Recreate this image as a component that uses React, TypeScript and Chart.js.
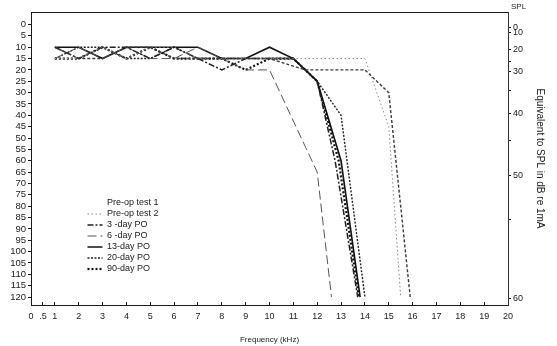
import { useEffect, useRef } from 'react';
import { Chart, registerables } from 'chart.js';

Chart.register(...registerables);

const FONT = '"Liberation Sans", Arial, Helvetica, sans-serif';
const INK = '#1a1a1a';

// Frequency axis (kHz) tick values
const xTickValues = [0, 0.5, 1, 2, 3, 4, 5, 6, 7, 8, 9, 10, 11, 12, 13, 14, 15, 16, 17, 18, 19, 20];
// Hearing level (dB) tick values
const yTickValues = [0, 5, 10, 15, 20, 25, 30, 35, 40, 45, 50, 55, 60, 65, 70, 75, 80, 85, 90, 95, 100, 105, 110, 115, 120];
// Right-hand SPL scale: labels and the hearing-level value each one lines up with
const splTickLabels = ['0', '10', '20', '', '30', '', '40', '', '50', '', '60'];
const splTickLevels = [1.5, 3.7, 10.8, 16.5, 20.5, 28.9, 39, 50.9, 66.7, 86, 120.5];

const seriesNames = ['Pre-op test 1', 'Pre-op test 2', '3 -day PO', '6 -day PO', '13-day PO', '20-day PO', '90-day PO'];

const preOp1Freq = [1, 2, 3, 4, 5, 6, 7, 8, 9, 10, 11.5, 14, 15, 15.9];
const preOp1Level = [10, 15, 15, 10, 10, 15, 15, 15, 15, 15, 20, 20, 30, 120];

const preOp2Freq = [1, 2, 3, 4, 5, 6, 7, 8, 9, 10, 11, 12, 13, 14, 15, 15.5];
const preOp2Level = [15, 15, 10, 15, 10, 10, 15, 15, 15, 15, 15, 15, 15, 15, 45, 120];

const day3Freq = [1, 2, 3, 4, 5, 6, 7, 8, 9, 10, 11, 12, 12.75, 13.7];
const day3Level = [10, 15, 10, 10, 15, 10, 15, 20, 15, 15, 15, 25, 60, 120];

const day6Freq = [1, 2, 3, 4, 5, 6, 7, 8, 9, 10, 12, 12.6];
const day6Level = [15, 10, 15, 10, 15, 15, 10, 15, 20, 20, 65, 120];

const day13Freq = [1, 2, 3, 4, 5, 6, 7, 8, 9, 10, 11, 12, 13, 13.8];
const day13Level = [10, 10, 15, 10, 10, 10, 10, 15, 15, 10, 15, 25, 60, 120];

const day20Freq = [1, 2, 3, 4, 5, 6, 7, 8, 9, 10, 11, 12, 13, 14];
const day20Level = [15, 10, 10, 15, 15, 10, 15, 15, 15, 15, 15, 25, 40, 120];

const day90Freq = [1, 2, 3, 4, 5, 6, 7, 8, 9, 10, 11, 12, 12.9, 13.75];
const day90Level = [15, 15, 10, 15, 10, 15, 15, 15, 20, 15, 15, 25, 60, 120];

const seriesFreqs = [preOp1Freq, preOp2Freq, day3Freq, day6Freq, day13Freq, day20Freq, day90Freq];
const seriesLevels = [preOp1Level, preOp2Level, day3Level, day6Level, day13Level, day20Level, day90Level];

// Line styling per series
const seriesStyles = [
  { color: '#3a3a3a', width: 1.4, dash: [3, 2] },
  { color: '#8a8a8a', width: 1, dash: [1.5, 2.5] },
  { color: '#202020', width: 1.5, dash: [6, 2, 2, 2] },
  { color: '#555555', width: 1, dash: [9, 4] },
  { color: '#111111', width: 1.6, dash: [] as number[] },
  { color: '#222222', width: 1.4, dash: [2, 1.5] },
  { color: '#111111', width: 2.2, dash: [2, 2] },
];
// Pre-op test 1 is listed without a line swatch
const swatchHidden = [true, false, false, false, false, false, false];

const figurePlugin = {
  id: 'figureExtras',
  afterLayout(chart: any) {
    const lg = chart.legend;
    const area = chart.chartArea;
    if (lg && area) {
      const w = lg.width;
      const h = lg.height;
      lg.left = area.left + 54.5;
      lg.top = area.top + 184.5;
      lg.right = lg.left + w;
      lg.bottom = lg.top + h;
    }
  },
  afterDraw(chart: any) {
    const s = chart.scales.y2;
    const ctx = chart.ctx;
    ctx.save();
    ctx.font = `8px ${FONT}`;
    ctx.fillStyle = INK;
    ctx.textBaseline = 'middle';
    ctx.textAlign = 'left';
    ctx.fillText('SPL', s.left + 3, chart.chartArea.top - 5);
    ctx.restore();
  },
};

export default function App() {
  const canvasRef = useRef<HTMLCanvasElement | null>(null);

  useEffect(() => {
    if (!canvasRef.current) return;
    const datasets = seriesNames.map((name, i) => ({
      label: name,
      data: seriesFreqs[i].map((f, j) => ({ x: f, y: seriesLevels[i][j] })),
      borderColor: seriesStyles[i].color,
      backgroundColor: seriesStyles[i].color,
      borderWidth: seriesStyles[i].width,
      borderDash: seriesStyles[i].dash,
      pointRadius: 0,
      pointStyle: 'line',
      tension: 0,
      fill: false,
      xAxisID: 'x',
      yAxisID: 'y',
    }));

    const chart = new Chart(canvasRef.current, {
      type: 'line',
      data: { datasets },
      plugins: [figurePlugin],
      options: {
        responsive: false,
        animation: false,
        layout: { padding: 0 },
        plugins: {
          tooltip: { enabled: false },
          legend: {
            position: 'chartArea',
            align: 'start',
            labels: {
              usePointStyle: true,
              pointStyle: 'line',
              pointStyleWidth: 15,
              boxWidth: 15,
              padding: 2,
              color: INK,
              font: { family: FONT, size: 9 },
              generateLabels(c: any) {
                const items = Chart.defaults.plugins.legend.labels.generateLabels(c);
                return items.map((it: any, i: number) => ({
                  ...it,
                  strokeStyle: swatchHidden[i] ? 'rgba(0,0,0,0)' : seriesStyles[i].color,
                  lineWidth: seriesStyles[i].width,
                  lineDash: seriesStyles[i].dash,
                  lineCap: 'butt',
                }));
              },
            },
          },
        },
        scales: {
          x: {
            type: 'linear',
            position: 'bottom',
            min: 0,
            max: 20,
            afterBuildTicks(axis: any) {
              axis.ticks = xTickValues.map((v) => ({ value: v }));
            },
            afterFit(axis: any) {
              axis.height = 41;
            },
            ticks: {
              autoSkip: false,
              maxRotation: 0,
              padding: 9,
              color: INK,
              font: { family: FONT, size: 9 },
              callback: (v: any) => (v === 0.5 ? '.5' : String(v)),
            },
            // negative length turns the tick marks inward, above the axis line
            grid: { drawOnChartArea: false, tickLength: -3, color: INK },
            border: { display: true, color: INK, width: 1 },
            title: {
              display: true,
              text: 'Frequency (kHz)',
              color: INK,
              font: { family: FONT, size: 8 },
              padding: { top: 0, bottom: 1 },
            },
          },
          x2: {
            type: 'linear',
            position: 'top',
            min: 0,
            max: 20,
            afterFit(axis: any) {
              axis.height = 12;
            },
            ticks: { display: false },
            grid: { display: false, drawTicks: false },
            border: { display: true, color: INK, width: 1 },
          },
          y: {
            type: 'linear',
            position: 'left',
            min: -5.5,
            max: 123.5,
            reverse: true,
            afterBuildTicks(axis: any) {
              axis.ticks = yTickValues.map((v) => ({ value: v }));
            },
            afterFit(axis: any) {
              axis.width = 31;
            },
            ticks: {
              autoSkip: false,
              padding: 2,
              color: INK,
              font: { family: FONT, size: 9.5 },
              callback: (v: any) => String(v),
            },
            grid: { drawOnChartArea: false, tickLength: 3, color: INK },
            border: { display: true, color: INK, width: 1 },
          },
          y2: {
            type: 'linear',
            position: 'right',
            min: -5.5,
            max: 123.5,
            reverse: true,
            afterBuildTicks(axis: any) {
              axis.ticks = splTickLevels.map((v) => ({ value: v }));
            },
            afterFit(axis: any) {
              axis.width = 49;
            },
            ticks: {
              autoSkip: false,
              padding: 2,
              color: INK,
              font: { family: FONT, size: 9 },
              callback: (_v: any, i: number) => splTickLabels[i],
            },
            grid: { drawOnChartArea: false, tickLength: 3, color: INK },
            border: { display: true, color: '#333', width: 1 },
            title: {
              display: true,
              text: 'Equivalent to SPL in dB re 1mA',
              color: INK,
              font: { family: FONT, size: 10 },
              padding: { top: 11, bottom: 0 },
            },
          },
        },
      } as any,
    });

    return () => chart.destroy();
  }, []);

  return (
    <canvas
      ref={canvasRef}
      width={557}
      height={346}
      style={{ position: 'fixed', left: 0, top: 0, background: '#fff' }}
    />
  );
}
